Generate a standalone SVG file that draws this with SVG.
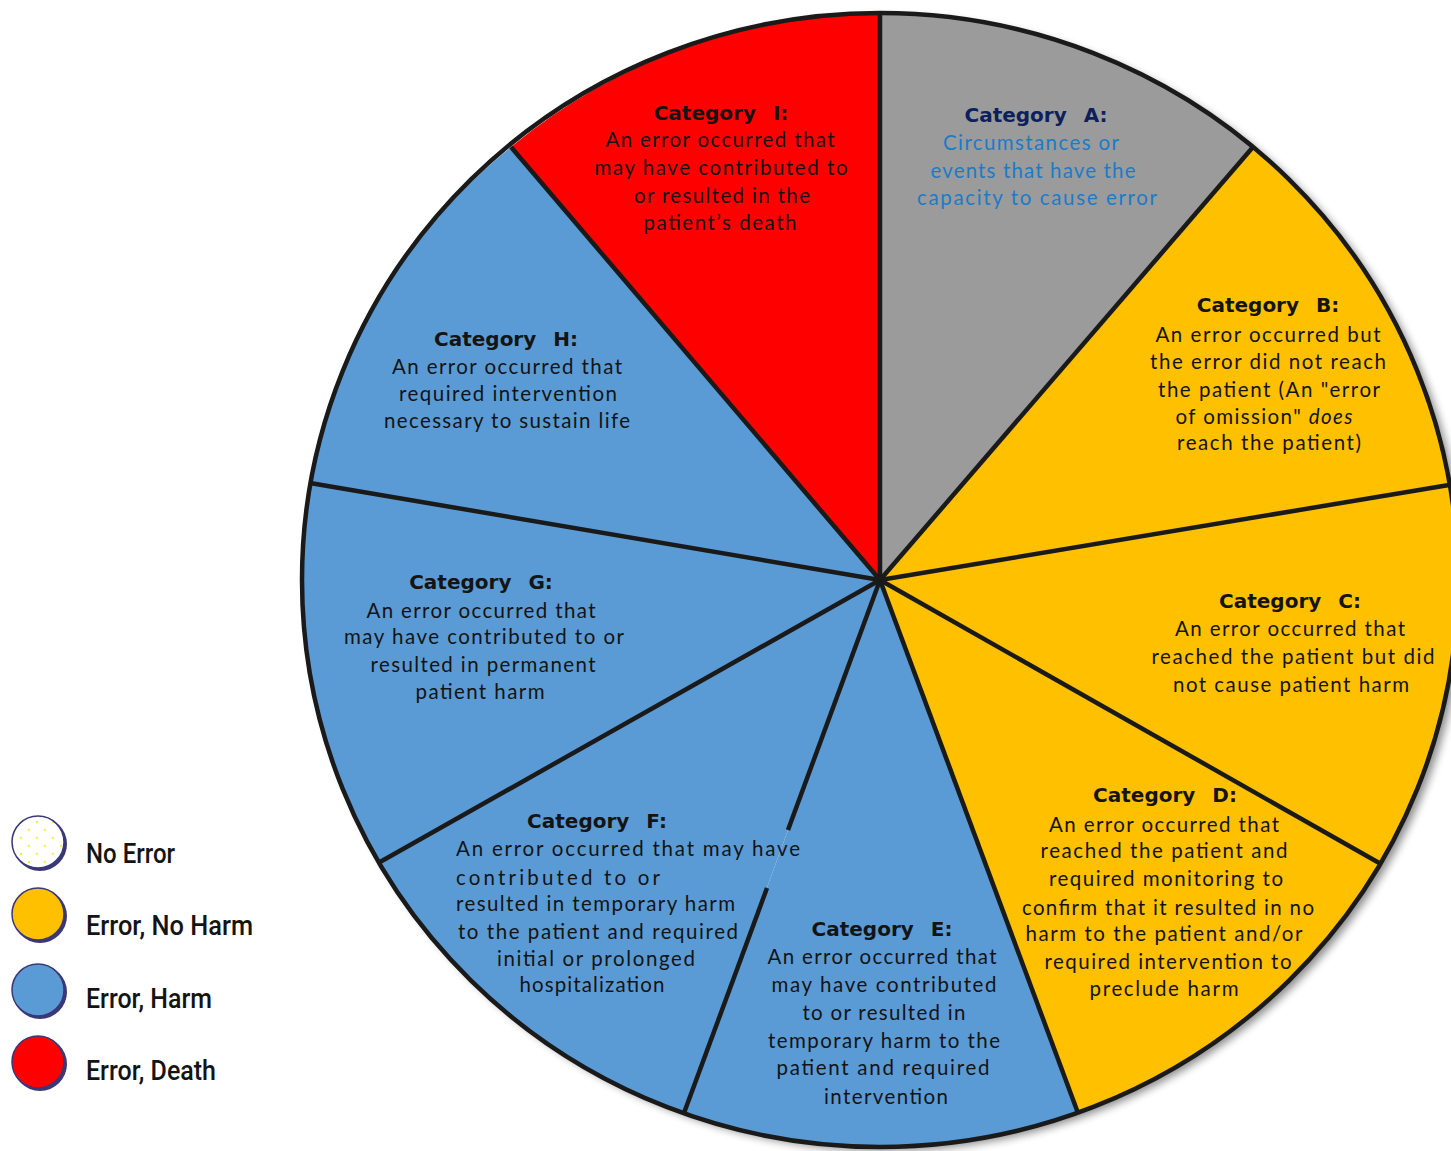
<svg xmlns="http://www.w3.org/2000/svg" width="1451" height="1151" viewBox="0 0 1451 1151">
<style>
.sl{stroke:none}
.sep{stroke:#1a1a1a;stroke-width:4.5;stroke-linecap:butt;fill:none}
.hd{font-family:"DejaVu Sans",sans-serif;font-weight:bold;font-size:20px;fill:#141414;text-anchor:middle;word-spacing:10px}
.bd{font-family:Lato,"Open Sans",sans-serif;font-size:20.5px;fill:#141414;text-anchor:middle}
.lg{font-family:Roboto,"Liberation Sans",sans-serif;font-weight:500;font-size:28px;fill:#141414}
</style>
<defs>
<filter id="sh" x="-10%" y="-10%" width="120%" height="120%">
<feGaussianBlur in="SourceAlpha" stdDeviation="4"/>
<feOffset dx="6" dy="4" result="b"/>
<feComponentTransfer><feFuncA type="linear" slope="0.45"/></feComponentTransfer>
<feMerge><feMergeNode/><feMergeNode in="SourceGraphic"/></feMerge>
</filter>
<pattern id="dots" width="16" height="16" patternUnits="userSpaceOnUse" x="2" y="2">
<rect width="16" height="16" fill="#ffffff"/>
<circle cx="3" cy="4" r="1" fill="#f2e600"/>
<circle cx="11" cy="12" r="1" fill="#f2e600"/>
</pattern>
</defs>
<rect width="1451" height="1151" fill="#ffffff"/>
<ellipse cx="880" cy="580" rx="578" ry="567" fill="#ffffff" filter="url(#sh)"/>
<g id="slice-I"><path class="sl" fill="#ff0000" d="M880,580 L511,147 A578,567 0 0 1 880,13 Z"/></g>
<g id="slice-A"><path class="sl" fill="#9b9b9b" d="M880,580 L880,13 A578,567 0 0 1 1253,147 Z"/></g>
<g id="slice-B"><path class="sl" fill="#ffc000" d="M880,580 L1253,147 A578,567 0 0 1 1449,485 Z"/></g>
<g id="slice-C"><path class="sl" fill="#ffc000" d="M880,580 L1449,485 A578,567 0 0 1 1381,864 Z"/></g>
<g id="slice-D"><path class="sl" fill="#ffc000" d="M880,580 L1381,864 A578,567 0 0 1 1078,1113 Z"/></g>
<g id="slice-E"><path class="sl" fill="#5b9bd5" d="M880,580 L1078,1113 A578,567 0 0 1 684,1113 Z"/></g>
<g id="slice-F"><path class="sl" fill="#5b9bd5" d="M880,580 L684,1113 A578,567 0 0 1 380,862 Z"/></g>
<g id="slice-G"><path class="sl" fill="#5b9bd5" d="M880,580 L380,862 A578,567 0 0 1 310,483 Z"/></g>
<g id="slice-H"><path class="sl" fill="#5b9bd5" d="M880,580 L310,483 A578,567 0 0 1 511,147 Z"/></g>
<g id="connectors">
<line class="sep" x1="880" y1="580" x2="880" y2="13"/>
<line class="sep" x1="880" y1="580" x2="1253" y2="147"/>
<line class="sep" x1="880" y1="580" x2="1449" y2="485"/>
<line class="sep" x1="880" y1="580" x2="1381" y2="864"/>
<line class="sep" x1="880" y1="580" x2="1078" y2="1113"/>
<line class="sep" x1="880" y1="580" x2="788" y2="830"/>
<line class="sep" x1="767" y1="888" x2="684" y2="1113"/>
<line class="sep" x1="880" y1="580" x2="380" y2="862"/>
<line class="sep" x1="880" y1="580" x2="310" y2="483"/>
<line class="sep" x1="880" y1="580" x2="511" y2="147"/>
<ellipse class="sep" cx="880" cy="580" rx="578" ry="567" stroke-width="4"/>
</g>
<g id="label-I">
<text class="hd" x="721" y="120">Category I:</text>
<text class="bd" x="720" y="147" textLength="229">An error occurred that</text>
<text class="bd" x="721" y="175" textLength="253">may have contributed to</text>
<text class="bd" x="722" y="203" textLength="176">or resulted in the</text>
<text class="bd" x="720" y="230" textLength="153">patient’s death</text>
</g>
<g id="label-A">
<text class="hd" x="1036" y="122" style="fill:#0d1f5c">Category A:</text>
<text class="bd" x="1031" y="150" textLength="176" style="fill:#1a7cc9">Circumstances or</text>
<text class="bd" x="1033" y="178" textLength="205" style="fill:#1a7cc9">events that have the</text>
<text class="bd" x="1037" y="205" textLength="240" style="fill:#1a7cc9">capacity to cause error</text>
</g>
<g id="label-B">
<text class="hd" x="1268" y="312">Category B:</text>
<text class="bd" x="1268" y="342" textLength="225">An error occurred but</text>
<text class="bd" x="1268" y="369" textLength="236">the error did not reach</text>
<text class="bd" x="1269" y="397" textLength="222">the patient (An "error</text>
<text class="bd" x="1264" y="424" textLength="177">of omission" <tspan font-style="italic">does</tspan></text>
<text class="bd" x="1269" y="450" textLength="184">reach the patient)</text>
</g>
<g id="label-C">
<text class="hd" x="1290" y="608">Category C:</text>
<text class="bd" x="1290" y="636" textLength="230">An error occurred that</text>
<text class="bd" x="1293" y="664" textLength="283">reached the patient but did</text>
<text class="bd" x="1291" y="692" textLength="236">not cause patient harm</text>
</g>
<g id="label-D">
<text class="hd" x="1165" y="802">Category D:</text>
<text class="bd" x="1164" y="832" textLength="230">An error occurred that</text>
<text class="bd" x="1164" y="858" textLength="247">reached the patient and</text>
<text class="bd" x="1166" y="886" textLength="234">required monitoring to</text>
<text class="bd" x="1168" y="915" textLength="292">confirm that it resulted in no</text>
<text class="bd" x="1164" y="941" textLength="277">harm to the patient and/or</text>
<text class="bd" x="1168" y="969" textLength="247">required intervention to</text>
<text class="bd" x="1164" y="996" textLength="149">preclude harm</text>
</g>
<g id="label-E">
<text class="hd" x="882" y="936">Category E:</text>
<text class="bd" x="882" y="964" textLength="229">An error occurred that</text>
<text class="bd" x="884" y="992" textLength="225">may have contributed</text>
<text class="bd" x="884" y="1020" textLength="163">to or resulted in</text>
<text class="bd" x="884" y="1048" textLength="232">temporary harm to the</text>
<text class="bd" x="883" y="1075" textLength="213">patient and required</text>
<text class="bd" x="886" y="1104" textLength="124">intervention</text>
</g>
<g id="label-F">
<text class="hd" x="597" y="828">Category F:</text>
<text class="bd" x="456" y="856" textLength="344" style="text-anchor:start">An error occurred that may have</text>
<text class="bd" x="456" y="885" textLength="204" style="text-anchor:start">contributed to or</text>
<text class="bd" x="456" y="911" textLength="279" style="text-anchor:start">resulted in temporary harm</text>
<text class="bd" x="458" y="939" textLength="280" style="text-anchor:start">to the patient and required</text>
<text class="bd" x="596" y="966" textLength="198">initial or prolonged</text>
<text class="bd" x="592" y="992" textLength="145">hospitalization</text>
</g>
<g id="label-G">
<text class="hd" x="481" y="589">Category G:</text>
<text class="bd" x="481" y="618" textLength="229">An error occurred that</text>
<text class="bd" x="484" y="644" textLength="280">may have contributed to or</text>
<text class="bd" x="483" y="672" textLength="225">resulted in permanent</text>
<text class="bd" x="480" y="699" textLength="129">patient harm</text>
</g>
<g id="label-H">
<text class="hd" x="506" y="346">Category H:</text>
<text class="bd" x="507" y="374" textLength="230">An error occurred that</text>
<text class="bd" x="508" y="401" textLength="218">required intervention</text>
<text class="bd" x="507" y="428" textLength="246">necessary to sustain life</text>
</g>
<g id="legend-no-error">
<circle cx="40" cy="844" r="27" fill="#3b3878"/>
<circle cx="38" cy="842" r="26" fill="url(#dots)" stroke="#3b3878" stroke-width="1.5"/>
<text class="lg" x="86" y="863" textLength="89" lengthAdjust="spacingAndGlyphs">No Error</text>
</g>
<g id="legend-no-harm">
<circle cx="40" cy="916" r="27" fill="#3b3878"/>
<circle cx="38" cy="914" r="26" fill="#ffc000" stroke="#3b3878" stroke-width="1.5"/>
<text class="lg" x="86" y="935" textLength="167" lengthAdjust="spacingAndGlyphs">Error,  No Harm</text>
</g>
<g id="legend-harm">
<circle cx="40" cy="992" r="27" fill="#3b3878"/>
<circle cx="38" cy="990" r="26" fill="#5b9bd5" stroke="#3b3878" stroke-width="1.5"/>
<text class="lg" x="86" y="1008" textLength="126" lengthAdjust="spacingAndGlyphs">Error,  Harm</text>
</g>
<g id="legend-death">
<circle cx="40" cy="1064" r="27" fill="#3b3878"/>
<circle cx="38" cy="1062" r="26" fill="#ff0000" stroke="#3b3878" stroke-width="1.5"/>
<text class="lg" x="86" y="1080" textLength="130" lengthAdjust="spacingAndGlyphs">Error,  Death</text>
</g>
</svg>
